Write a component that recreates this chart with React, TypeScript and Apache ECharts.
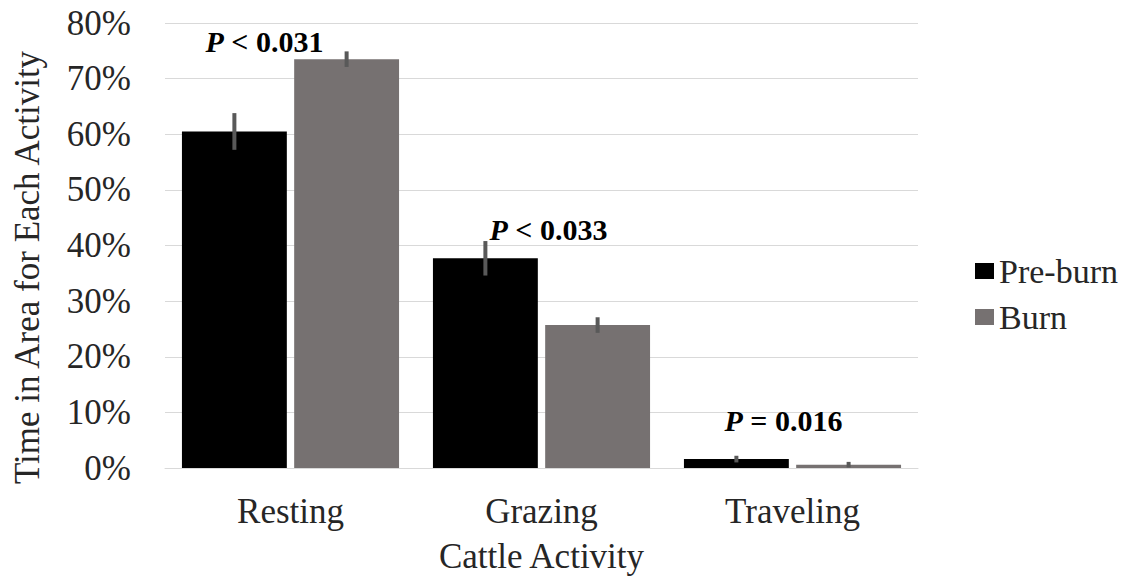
import React, { useEffect, useRef } from "react";
import * as echarts from "echarts";

const categories = ["Resting", "Grazing", "Traveling"];
const seriesNames = ["Pre-burn", "Burn"];
const preBurn = [60.5, 37.7, 1.6];
const burn = [73.5, 25.7, 0.6];
const preBurnErr = [3.3, 3.1, 0.6];
const burnErr = [1.4, 1.4, 0.5];
const pLabels = ["< 0.031", "< 0.033", "= 0.016"];
const pLabelY = [76.6, 42.8, 8.6];
const yTicks = [0, 10, 20, 30, 40, 50, 60, 70, 80];

const FONT = "Liberation Serif, Times New Roman, serif";
const TEXT = "#262626";
const FS = 35;
const BAR_CAT_GAP = 0.135;
const BAR_GAP = 0.07;

export default function App() {
  const ref = useRef<HTMLDivElement>(null);
  useEffect(() => {
    if (!ref.current) return;
    const chart = echarts.init(ref.current, undefined, { renderer: "svg" });

    const errData = (vals: number[], errs: number[]) =>
      vals.map((v, i) => [i, v - errs[i], v + errs[i]]);

    const errSeries = (vals: number[], errs: number[], side: number) => ({
      type: "custom",
      silent: true,
      z: 5,
      data: errData(vals, errs),
      renderItem: (params: any, api: any) => {
        const idx = api.value(0);
        const lo = api.coord([idx, api.value(1)]);
        const hi = api.coord([idx, api.value(2)]);
        const catW = api.size([1, 0])[0];
        const barW = (catW * (1 - BAR_CAT_GAP)) / (2 + BAR_GAP);
        const off = (side * barW * (1 + BAR_GAP)) / 2;
        return {
          type: "rect",
          shape: { x: lo[0] + off - 2, y: hi[1], width: 4, height: lo[1] - hi[1] },
          style: { fill: "#595959" },
        };
      },
    });

    const labelOffsets = [-26, 7, -9];

    const option: any = {
      animation: false,
      textStyle: { fontFamily: FONT },
      grid: { left: 165, right: 219, top: 23, bottom: 112, containLabel: false },
      legend: {
        orient: "vertical",
        left: 970,
        top: 249,
        itemWidth: 19,
        itemHeight: 16,
        itemGap: 12,
        icon: "rect",
        data: seriesNames,
        textStyle: { fontFamily: FONT, fontSize: 34, color: TEXT, padding: [0, 0, 0, 0] },
      },
      xAxis: {
        type: "category",
        data: categories,
        name: "Cattle Activity",
        nameLocation: "middle",
        nameGap: 71,
        nameTextStyle: { fontFamily: FONT, fontSize: FS, color: TEXT },
        axisLine: { lineStyle: { color: "#d9d9d9", width: 1 } },
        axisTick: { show: false },
        axisLabel: { fontFamily: FONT, fontSize: FS, color: TEXT, margin: 26 },
      },
      yAxis: {
        type: "value",
        min: yTicks[0],
        max: yTicks[yTicks.length - 1],
        interval: 10,
        name: "Time in Area for Each Activity",
        nameLocation: "middle",
        nameGap: 120,
        nameTextStyle: { fontFamily: FONT, fontSize: FS, color: TEXT, padding: [0, 44, 0, 0] },
        axisLine: { show: false },
        axisTick: { show: false },
        splitLine: { lineStyle: { color: "#d9d9d9", width: 1 } },
        axisLabel: {
          fontFamily: FONT,
          fontSize: FS,
          color: TEXT,
          margin: 34,
          formatter: (v: number) => v + "%",
        },
      },
      series: [
        {
          name: seriesNames[0],
          type: "bar",
          data: preBurn,
          barCategoryGap: BAR_CAT_GAP * 100 + "%",
          barGap: BAR_GAP * 100 + "%",
          itemStyle: { color: "#000000" },
        },
        {
          name: seriesNames[1],
          type: "bar",
          data: burn,
          barCategoryGap: BAR_CAT_GAP * 100 + "%",
          barGap: BAR_GAP * 100 + "%",
          itemStyle: { color: "#767171" },
        },
        errSeries(preBurn, preBurnErr, -1),
        errSeries(burn, burnErr, 1),
        {
          type: "custom",
          silent: true,
          z: 6,
          data: pLabels.map((t, i) => [i, pLabelY[i], t]),
          renderItem: (params: any, api: any) => {
            const idx = api.value(0);
            const p = api.coord([idx, api.value(1)]);
            return {
              type: "text",
              x: p[0] + labelOffsets[idx],
              y: p[1],
              style: {
                text: "{p|P} {r|" + pLabels[idx] + "}",
                align: "center",
                verticalAlign: "middle",
                rich: {
                  p: { fontFamily: FONT, fontSize: 30, fontWeight: "bold", fontStyle: "italic", fill: "#000" },
                  r: { fontFamily: FONT, fontSize: 30, fontWeight: "bold", fill: "#000" },
                },
                fontFamily: FONT,
                fontSize: 30,
                fontWeight: "bold",
                fill: "#000",
              },
            };
          },
        },
      ],
    };
    chart.setOption(option);
    return () => chart.dispose();
  }, []);

  return (
    <div
      ref={ref}
      style={{ position: "fixed", left: 0, top: 0, width: 1137, height: 580, background: "#fff" }}
    />
  );
}
